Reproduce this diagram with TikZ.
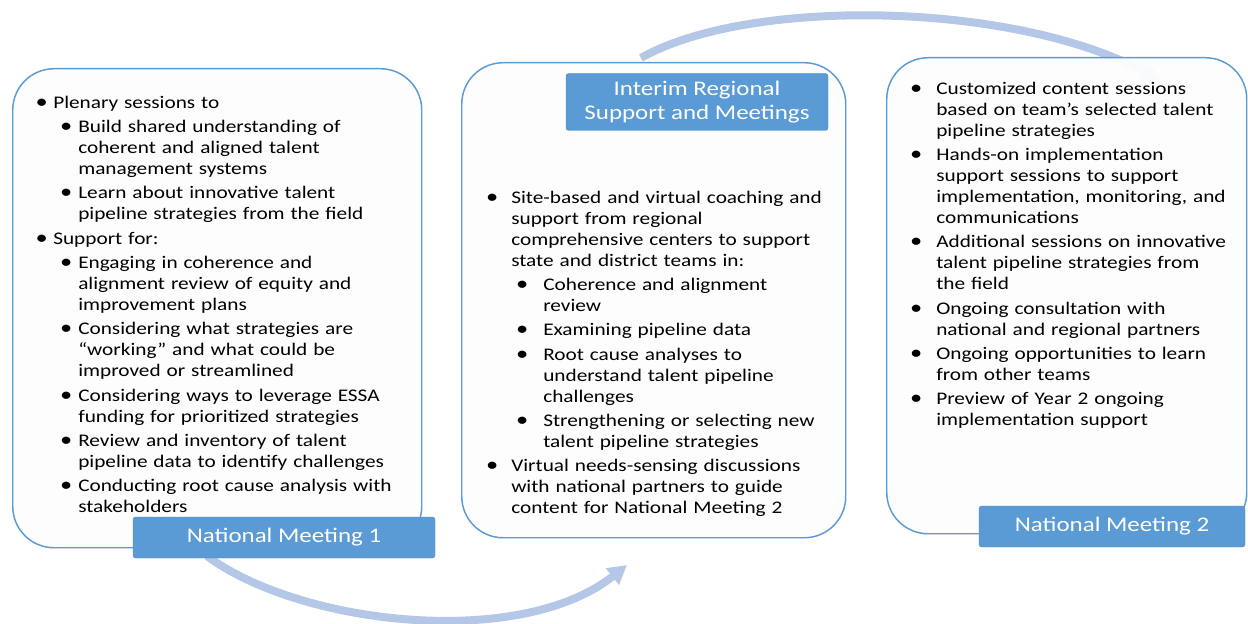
\documentclass[tikz,border=0pt]{standalone}
\usepackage{fontspec}
\setmainfont{Carlito}[FakeStretch=1.2]
\usepackage{enumitem}
\usetikzlibrary{arrows.meta,positioning}

\definecolor{meetblue}{RGB}{91,155,213}
\definecolor{arcblue}{RGB}{180,199,231}
\definecolor{panelfill}{RGB}{253,253,253}

% one screen pixel
\newdimen\pxu \pxu=0.75pt
\newcommand{\dotlabel}{\makebox[0pt]{\scalebox{1.15}{\textbullet}}}
\setlist[itemize]{nosep,itemsep=2.5pt,labelwidth=0pt,label=\dotlabel}

\begin{document}
\begin{tikzpicture}[x=0.75pt,y=-0.75pt,>=Latex,
  panel/.style={draw=meetblue,line width=1.1pt,fill=panelfill,fill opacity=0.95,
    draw opacity=1,rounded corners=31pt,anchor=north west,inner sep=0pt},
  tag/.style={fill=meetblue,draw=meetblue!90!black,line width=0.3pt,rounded corners=2pt,
    text=white,align=center,inner sep=0pt,font=\fontsize{15.6pt}{18pt}\selectfont},
  listtext/.style={anchor=north west,inner sep=0pt,align=left,
    font=\fontsize{13.3pt}{15.75pt}\selectfont},
  arc/.style={draw=arcblue,line width=6pt}]
  \useasboundingbox (0,0) rectangle (1248,624);

  % curved arrows between the meetings
  \coordinate (arcAstart) at (641,58);
  \coordinate (arcAend) at (1160,80);
  \coordinate (arcBstart) at (207,556);
  \coordinate (arcBend) at (627,565);
  \draw[arc,-{Triangle[width=15pt,length=14pt]}] (arcAstart) .. controls (745,-2) and (1010,0) .. (arcAend);
  \draw[arc,-{Triangle[width=15pt,length=14pt]}] (arcBstart) .. controls (300,625) and (520,650) .. (arcBend);

  % the three panels
  \node[panel,minimum width=409\pxu,minimum height=479\pxu] (panelA) at (12,68) {};
  \node[panel,minimum width=384\pxu,minimum height=475\pxu] (panelB) at (461,62) {};
  \node[panel,minimum width=360\pxu,minimum height=476\pxu] (panelC) at (886,57) {};

  % first meeting
  \node[listtext,text width=400\pxu] (listA) at (30,87) {%
    \begin{itemize}[leftmargin=23\pxu,labelsep=11.5\pxu]
      \item Plenary sessions to
      \begin{itemize}[leftmargin=25\pxu,labelsep=12\pxu,topsep=2.5pt]
        \item Build shared understanding of\\coherent and aligned talent\\management systems
        \item Learn about innovative talent\\pipeline strategies from the field
      \end{itemize}
      \item Support for:
      \begin{itemize}[leftmargin=25\pxu,labelsep=12\pxu,topsep=2.5pt]
        \item Engaging in coherence and\\alignment review of equity and\\improvement plans
        \item Considering what strategies are\\“working” and what could be\\improved or streamlined
        \item Considering ways to leverage ESSA\\funding for prioritized strategies
        \item Review and inventory of talent\\pipeline data to identify challenges
        \item Conducting root cause analysis with\\stakeholders
      \end{itemize}
    \end{itemize}};

  % interim support
  \node[listtext,text width=370\pxu] (listB) at (480,182) {%
    \begin{itemize}[leftmargin=31\pxu,labelsep=19\pxu]
      \item Site-based and virtual coaching and\\support from regional\\comprehensive centers to support\\state and district teams in:
      \begin{itemize}[leftmargin=32\pxu,labelsep=21\pxu,topsep=2.5pt]
        \item Coherence and alignment\\review
        \item Examining pipeline data
        \item Root cause analyses to\\understand talent pipeline\\challenges
        \item Strengthening or selecting new\\talent pipeline strategies
      \end{itemize}
      \item Virtual needs-sensing discussions\\with national partners to guide\\content for National Meeting 2
    \end{itemize}};

  % second meeting
  \node[listtext,text width=340\pxu] (listC) at (905,73) {%
    \begin{itemize}[leftmargin=31\pxu,labelsep=20\pxu]
      \item Customized content sessions\\based on team’s selected talent\\pipeline strategies
      \item Hands-on implementation\\support sessions to support\\implementation, monitoring, and\\communications
      \item Additional sessions on innovative\\talent pipeline strategies from\\the field
      \item Ongoing consultation with\\national and regional partners
      \item Ongoing opportunities to learn\\from other teams
      \item Preview of Year 2 ongoing\\implementation support
    \end{itemize}};

  % headings
  \node[tag,minimum width=302\pxu,minimum height=41\pxu] (meetA) at (284,537.5) {National Meeting 1};
  \node[tag,minimum width=262\pxu,minimum height=57\pxu] (interim) at (697,102) {Interim Regional\\Support and Meetings};
  \node[tag,minimum width=266\pxu,minimum height=41\pxu] (meetB) at (1112,526.5) {National Meeting 2};
\end{tikzpicture}
\end{document}
